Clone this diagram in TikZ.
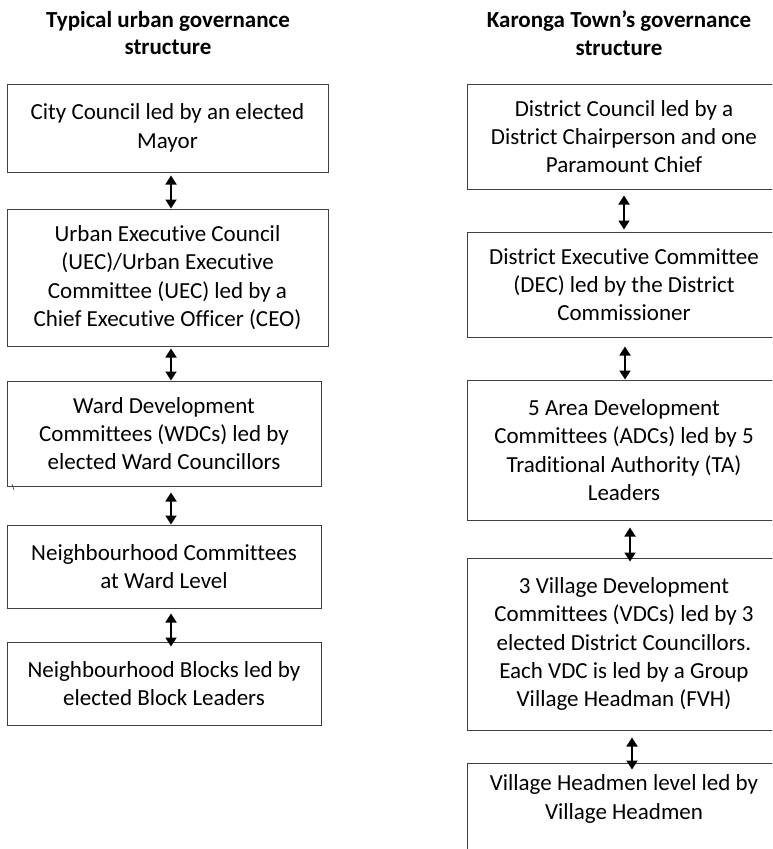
\documentclass[tikz,border=0pt]{standalone}
\usepackage{fontspec}
\setmainfont{Carlito}[Ligatures={NoCommon,NoRequired,NoContextual}]
\usetikzlibrary{arrows.meta}
\tikzset{
  caja/.style={draw=black!75, line width=1pt, align=center, inner sep=0pt,
    font=\fontsize{23}{28.3}\selectfont},
  texto/.style={align=center, inner sep=0pt, font=\fontsize{23}{28.3}\selectfont},
  titulo/.style={align=center, inner sep=0pt, font=\fontsize{23}{27.5}\selectfont\bfseries},
  flecha/.style={line width=1.8pt, {Triangle[length=9pt,width=11pt]}-{Triangle[length=9pt,width=11pt]}},
}
\begin{document}
\begin{tikzpicture}[x=1pt, y=-1pt]
            \useasboundingbox (0,0) rectangle (772,849);
            \clip (0,0) rectangle (772,849);

            % Titulos
            \node[titulo] (tizq) at (168,33) {Typical urban governance\\structure};
            \node[titulo] (tder) at (619,33) {Karonga Town’s governance\\structure};

            % Estructura urbana tipica
            \node[caja, minimum width=321, minimum height=88] (cc) at (167.5,128) {City Council led by an elected\\Mayor};
            \node[caja, minimum width=321, minimum height=137] (uec) at (167.5,277.5) {Urban Executive Council\\(UEC)/Urban Executive\\Committee (UEC) led by a\\Chief Executive Officer (CEO)};
            \node[caja, minimum width=314, minimum height=105] (wdc) at (164,433.5) {Ward Development\\Committees (WDCs) led by\\elected Ward Councillors};
            \node[caja, minimum width=314, minimum height=83] (nc) at (164,566.5) {Neighbourhood Committees\\at Ward Level};
            \node[caja, minimum width=314, minimum height=83] (nb) at (164,683.5) {Neighbourhood Blocks led by\\elected Block Leaders};
            \draw[black!80, line width=0.6pt] (12,484) -- (14,490);

            \draw[flecha, shorten <=3pt] ([xshift=3.5pt]cc.south) -- ([xshift=3.5pt]uec.north);
            \draw[flecha, shorten <=2pt] ([xshift=3.5pt]uec.south) -- ([xshift=7pt]wdc.north);
            \draw[flecha, shorten <=6pt] ([xshift=7pt]wdc.south) -- ([xshift=7pt]nc.north);
            \draw[flecha, shorten <=5pt, shorten >=-5pt] ([xshift=7pt]nc.south) -- ([xshift=7pt]nb.north);

            % Estructura de Karonga
            \node[caja, minimum width=314, minimum height=105] (dc) at (624,136.5) {District Council led by a\\District Chairperson and one\\Paramount Chief};
            \node[caja, minimum width=314, minimum height=105] (dec) at (624,284.5) {District Executive Committee\\(DEC) led by the District\\Commissioner};
            \node[caja, minimum width=314, minimum height=140] (adc) at (624,450) {5 Area Development\\Committees (ADCs) led by 5\\Traditional Authority (TA)\\Leaders};
            \node[caja, minimum width=314, minimum height=172] (vdc) at (624,644) {3 Village Development\\Committees (VDCs) led by 3\\elected District Councillors.\\Each VDC is led by a Group\\Village Headman (FVH)};
            \node[caja, minimum width=314, minimum height=140] (vhcaja) at (624,833) {};
            \node[texto] (vh) at (624,799) {Village Headmen level led by\\Village Headmen};

            \draw[flecha, shorten <=6pt, shorten >=2pt] (dc.south) -- (dec.north);
            \draw[flecha, shorten <=9pt] ([xshift=1pt]dec.south) -- ([xshift=1pt]adc.north);
            \draw[flecha, shorten <=7pt, shorten >=-4pt] ([xshift=6pt]adc.south) -- ([xshift=6pt]vdc.north);
            \draw[flecha, shorten <=7pt, shorten >=-7pt] ([xshift=8pt]vdc.south) -- ([xshift=8pt]vhcaja.north);
        \end{tikzpicture}
\end{document}
